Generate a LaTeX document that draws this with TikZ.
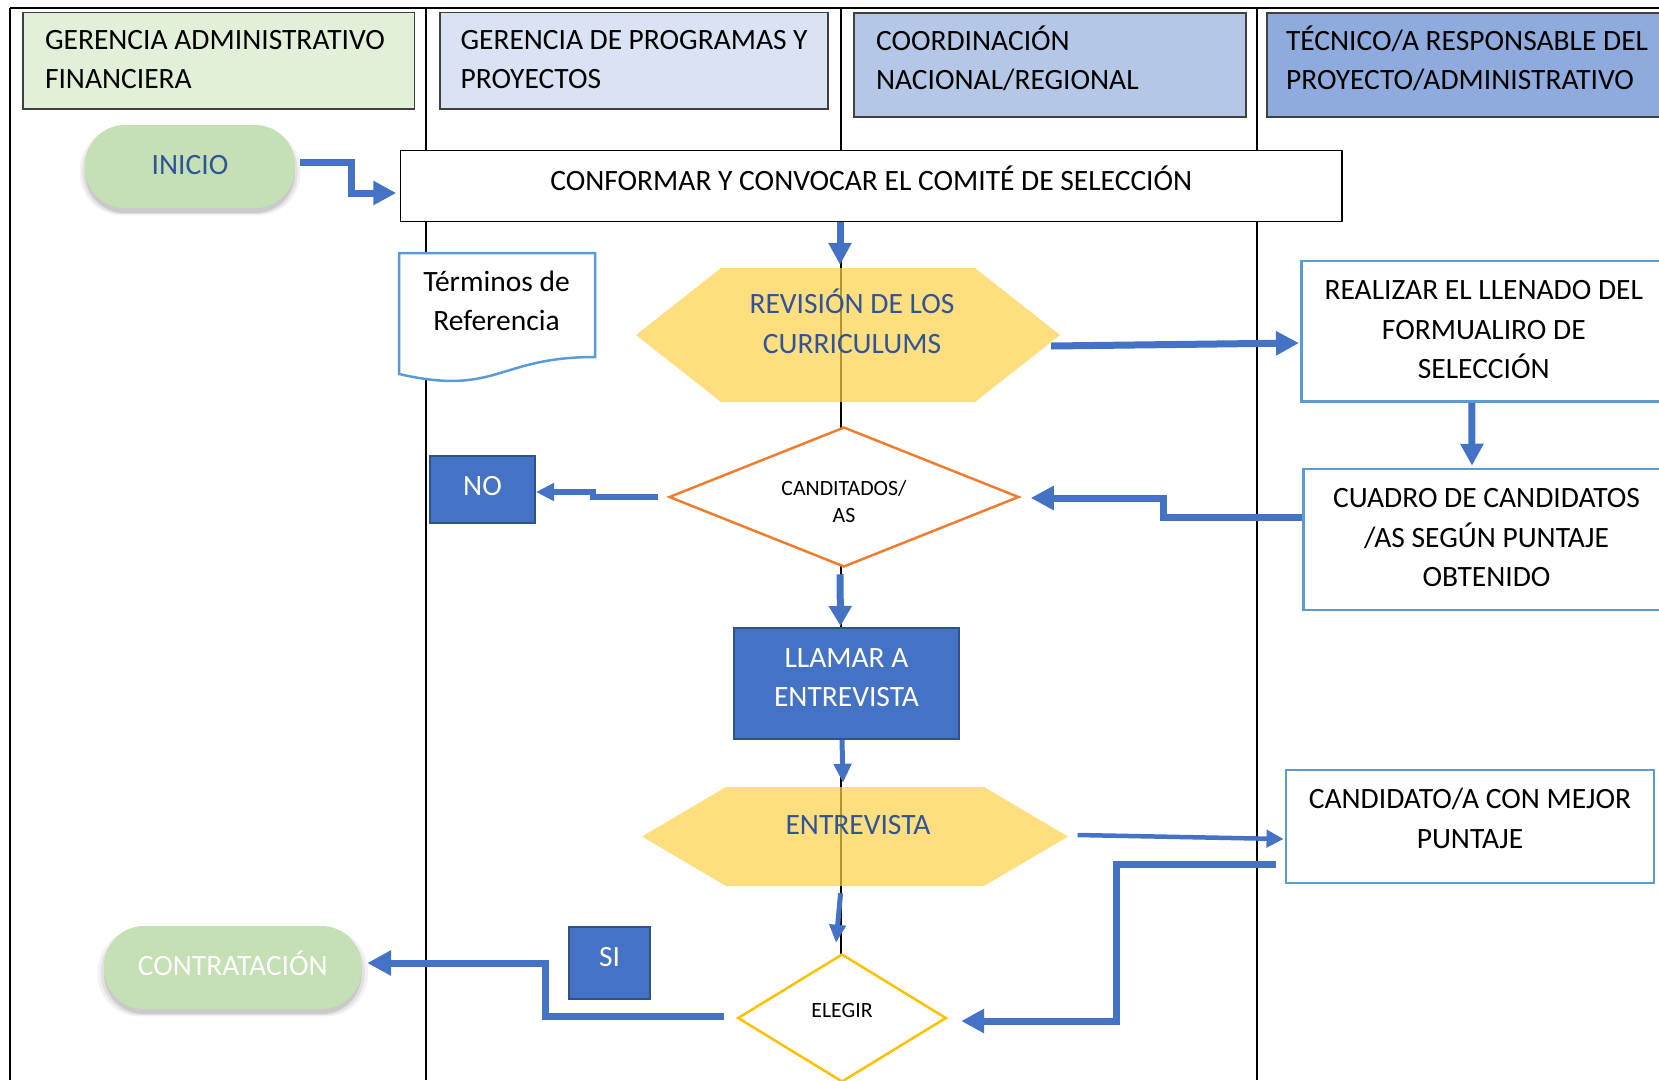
\documentclass[tikz,border=0pt]{standalone}
\usepackage{fontspec}
\setmainfont{Carlito}
\usetikzlibrary{arrows.meta,shapes.geometric,shadows}

\definecolor{flowblue}{HTML}{4472C4}
\definecolor{boxedge}{HTML}{2F528F}
\definecolor{navytext}{HTML}{2F5597}
\definecolor{skyedge}{HTML}{5B9BD5}
\definecolor{orangeedge}{HTML}{ED7D31}
\definecolor{goldedge}{HTML}{FFC000}
\definecolor{hexgold}{RGB}{255,208,74}
\definecolor{pillgreen}{HTML}{C5E0B4}
\definecolor{headgreen}{HTML}{E2F0D9}
\definecolor{headpale}{HTML}{DAE3F3}
\definecolor{headmid}{HTML}{B4C7E7}
\definecolor{headdeep}{HTML}{8FAADC}
\definecolor{headedge}{HTML}{404040}

\newcommand\bigtxt{\fontsize{29.5pt}{39.5pt}\selectfont}
\newcommand\smalltxt{\fontsize{21.8pt}{27pt}\selectfont}

\begin{document}
\begin{tikzpicture}[x=1pt,y=-1pt,
  lane/.style={draw=black, line width=2pt},
  txt/.style={inner sep=0pt, font=\bigtxt, align=flush center,
    execute at begin node=\strut, execute at end node=\strut},
  header/.style={txt, draw=headedge, line width=1.5pt, align=flush left},
  pillshadow/.style={
    general shadow={shadow scale=1.05, shadow yshift=-5pt, fill=black, opacity=0.05},
    general shadow={shadow scale=1.025, shadow yshift=-5pt, fill=black, opacity=0.07},
    general shadow={shadow yshift=-5pt, fill=black, opacity=0.1}},
  pill/.style={txt, fill=pillgreen, rounded corners=40pt, pillshadow},
  plainbox/.style={txt, draw=black, line width=1.5pt, fill=white},
  skybox/.style={txt, draw=skyedge, line width=2.5pt, fill=white},
  bluebox/.style={txt, fill=flowblue, draw=boxedge, line width=2pt, text=white},
  hexnode/.style={rectangle, inner sep=0pt,
    path picture={\fill[hexgold, fill opacity=0.7]
      ([xshift=#1]path picture bounding box.north west) --
      ([xshift=-#1]path picture bounding box.north east) --
      (path picture bounding box.east) --
      ([xshift=-#1]path picture bounding box.south east) --
      ([xshift=#1]path picture bounding box.south west) --
      (path picture bounding box.west) -- cycle;}},
  decision/.style={diamond, inner sep=0pt, line width=2.5pt, fill=white},
  flow/.style={draw=flowblue, line width=7pt},
  tipbig/.style={-{Triangle[length=23pt,width=23pt]}},
]
\useasboundingbox (0,0) rectangle (1659,1080);

% swimlane frame
\draw[lane] (10,8) -- (1659,8);
\draw[lane] (10,8) -- (10,1080);
\foreach \x in {426,841,1257} \draw[lane] (\x,8) -- (\x,1080);

% lane headers
\node[header, fill=headgreen, minimum width=391.5pt, minimum height=96.3pt,
  inner xsep=22pt, text width=347.5pt] (hdA) at (218.75,60.85)
  {GERENCIA ADMINISTRATIVO\\FINANCIERA};
\node[header, fill=headpale, minimum width=388pt, minimum height=96.3pt,
  inner xsep=20.5pt, text width=347pt] (hdB) at (634,60.85)
  {GERENCIA DE PROGRAMAS Y\\PROYECTOS};
\node[header, fill=headmid, minimum width=392pt, minimum height=104pt,
  inner xsep=22pt, text width=348pt, text depth=57pt] (hdC) at (1050,65)
  {COORDINACIÓN\\NACIONAL/REGIONAL};
\node[header, fill=headdeep, minimum width=423pt, minimum height=104pt,
  inner xsep=19pt, text width=385pt, text depth=57pt] (hdD) at (1478.5,65)
  {TÉCNICO/A RESPONSABLE DEL\\PROYECTO/ADMINISTRATIVO};

% start and end terminals
\node[pill, text=navytext, minimum width=210pt, minimum height=83pt, text width=210pt]
  (ini) at (190,166.5) {INICIO};
\node[pill, text=white, minimum width=257.6pt, minimum height=83pt, text width=257.6pt]
  (contr) at (232.8,967.5) {CONTRATACIÓN};

% process boxes
\node[plainbox, minimum width=941.3pt, minimum height=71pt, text width=941.3pt,
  text depth=18.25pt] (conf) at (871.35,186.2)
  {CONFORMAR Y CONVOCAR EL COMITÉ DE SELECCIÓN};

\filldraw[fill=white, draw=skyedge, line width=2.5pt]
  (399,253) -- (595,253) -- (595,357) .. controls (497,357) and (497,396.5) .. (399,374) -- cycle;
\node[txt, text width=196pt] (term) at (496.5,302.95) {Términos de\\Referencia};

\node[hexnode=85pt, minimum width=424pt, minimum height=134pt] (rev) at (848,335) {};
\node[txt, text=navytext, text width=300pt] (revtxt) at ([xshift=4pt,yshift=9.4pt]rev.center)
  {REVISIÓN DE LOS\\CURRICULUMS};

\node[skybox, minimum width=364.4pt, minimum height=140.7pt, text width=364.4pt]
  (real) at (1483.8,331.35) {REALIZAR EL LLENADO DEL\\FORMUALIRO DE\\SELECCIÓN};
\node[skybox, minimum width=365.8pt, minimum height=141pt, text width=365.8pt]
  (cuad) at (1486.5,539.5) {CUADRO DE CANDIDATOS\\/AS SEGÚN PUNTAJE\\OBTENIDO};

\node[bluebox, minimum width=105pt, minimum height=67.3pt, text width=105pt,
  text depth=16.25pt] (no) at (482.5,489.35) {NO};

\node[decision, draw=orangeedge, minimum width=350pt, minimum height=140pt] (cand) at (844,497) {};
\node[txt, font=\smalltxt, text width=150pt] (candtxt) at ([yshift=-6.6pt]cand.center) {CANDITADOS/\\AS};

\node[bluebox, minimum width=225pt, minimum height=111pt, text width=225pt,
  text depth=59.75pt] (llam) at (846.5,683.5) {LLAMAR A\\ENTREVISTA};

\node[hexnode=84pt, minimum width=426pt, minimum height=99pt] (ent) at (855,836.5) {};
\node[txt, text=navytext, text width=250pt] (enttxt) at ([xshift=3pt,yshift=10.1pt]ent.center) {ENTREVISTA};

\node[skybox, minimum width=368pt, minimum height=113pt, text width=368pt,
  text depth=62.95pt] (cnd) at (1470,826.5) {CANDIDATO/A CON MEJOR\\PUNTAJE};

\node[bluebox, minimum width=81pt, minimum height=72.3pt, text width=81pt,
  text depth=20pt] (si) at (609.5,962.85) {SI};

\node[decision, draw=goldedge, minimum width=208.6pt, minimum height=128pt] (eleg) at (842,1018) {};
\node[txt, font=\smalltxt, text width=100pt] (elegtxt) at ([yshift=6.1pt]eleg.center) {ELEGIR};

% connectors
\draw[flow, tipbig] ([xshift=5pt,yshift=4.5pt]ini.east) -- ++(51,0)
  |- ([xshift=-3.7pt,yshift=-6.8pt]conf.west);
\draw[flow, -{Triangle[length=22pt,width=22pt]}] ([xshift=-31.35pt]conf.south)
  -- ([xshift=-8pt,yshift=3pt]rev.north);
\draw[flow, tipbig] ([xshift=-9pt,yshift=-11pt]rev.east)
  -- ([xshift=-1.4pt,yshift=-11.65pt]real.west);
\draw[flow, -{Triangle[length=22pt,width=22pt]}] ([xshift=-12pt]real.south)
  -- ([xshift=-14.5pt,yshift=2pt]cuad.north);
\draw[flow, tipbig] ([yshift=22.2pt]cuad.west) -- ++(-139,0)
  |- ([xshift=10.5pt,yshift=-1pt]cand.east);
\draw[flow, line width=6pt, -{Triangle[length=18pt,width=17pt]}] ([xshift=-10pt]cand.west)
  -- ++(-65,0) |- ([yshift=-2.65pt]no.east);
\draw[flow, -{Triangle[length=20pt,width=22pt]}] ([xshift=-4pt,yshift=-6pt]cand.south)
  -- ([xshift=-6pt,yshift=1pt]llam.north);
\draw[flow, line width=5pt, -{Triangle[length=19pt,width=17pt]}] ([xshift=-4.5pt]llam.south)
  -- ([xshift=-12pt,yshift=4pt]ent.north);
\draw[flow, line width=4.5pt, -{Triangle[length=17pt,width=17pt]}] ([xshift=9.5pt,yshift=1.5pt]ent.east)
  -- ([xshift=-1.2pt,yshift=-12.5pt]cnd.west);
\draw[flow, tipbig] ([xshift=-9pt,yshift=-37.5pt]cnd.west) -- ++(-159,0)
  |- ([xshift=13.6pt,yshift=-3pt]eleg.east);
\draw[flow, line width=5pt, -{Triangle[length=18pt,width=16pt]}] ([xshift=-14.4pt,yshift=-7pt]ent.south)
  -- ([xshift=-6pt,yshift=10pt]eleg.north);
\draw[flow, -{Triangle[length=24pt,width=24pt]}] ([xshift=-12.4pt,yshift=1.3pt]eleg.west) -- ++(-179,0)
  |- ([xshift=5.4pt,yshift=4.5pt]contr.east);
\end{tikzpicture}
\end{document}
